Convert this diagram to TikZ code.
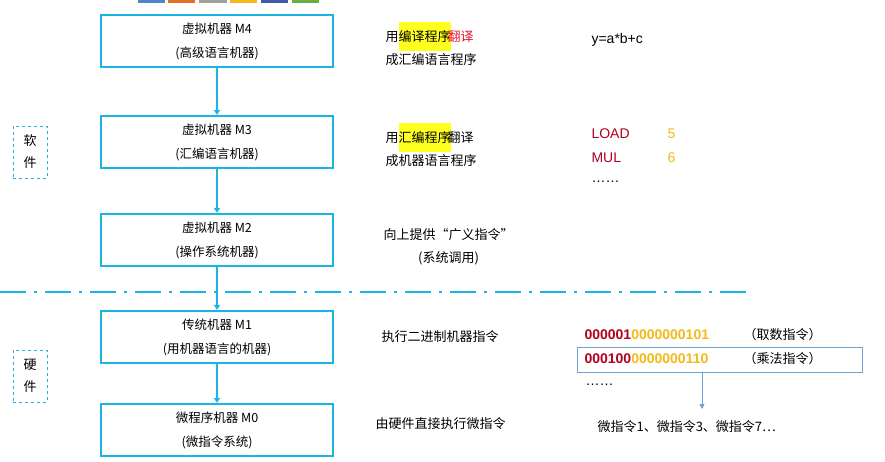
\documentclass[tikz,border=0pt]{standalone}
\usepackage{fontspec}
\setmainfont{Liberation Sans}
\newfontfamily\cjk{Noto Sans CJK SC}
\usetikzlibrary{arrows.meta}
\definecolor{cy}{HTML}{1CB4E4}
\definecolor{dred}{HTML}{B00020}
\definecolor{gold}{HTML}{F2BA1A}
\definecolor{hl}{HTML}{FFFF20}
\definecolor{rr}{HTML}{E8102A}
\definecolor{lb}{HTML}{6EA0D2}
\definecolor{c1}{HTML}{4F86C6}
\definecolor{c2}{HTML}{E0702A}
\definecolor{c3}{HTML}{A0A0A0}
\definecolor{c4}{HTML}{F2BA1A}
\definecolor{c5}{HTML}{3D5DA8}
\definecolor{c6}{HTML}{6AAE45}
\begin{document}
\begin{tikzpicture}[x=1pt,y=-1pt,
 mbox/.style={draw=cy,line width=2.2pt,minimum width=232pt,minimum height=52pt,align=center,font=\cjk\fontsize{12.5}{24}\selectfont},
 side/.style={draw=cy,dashed,line width=0.7pt,minimum width=34pt,minimum height=52pt,align=center,font=\cjk\fontsize{13}{22}\selectfont},
 txt/.style={anchor=west,align=left,font=\cjk\fontsize{13}{23}\selectfont},
 code/.style={anchor=west,font=\fontsize{14}{17}\selectfont},
 conn/.style={cy,line width=1.5pt,-{Triangle[length=5pt,width=6pt]}}]
\useasboundingbox (0,0) rectangle (885,462);
\fill[white] (0,0) rectangle (885,462);
% top colour strips
\fill[c1] (138,0) rectangle (165,3);
\fill[c2] (168,0) rectangle (195,3);
\fill[c3] (199,0) rectangle (227,3);
\fill[c4] (230,0) rectangle (257,3);
\fill[c5] (261,0) rectangle (288,3);
\fill[c6] (292,0) rectangle (319,3);
% machine boxes
\node[mbox] (m4) at (217,41) {虚拟机器 M4\\(高级语言机器)};
\node[mbox] (m3) at (217,142) {虚拟机器 M3\\(汇编语言机器)};
\node[mbox] (m2) at (217,240) {虚拟机器 M2\\(操作系统机器)};
\node[mbox] (m1) at (217,337) {传统机器 M1\\(用机器语言的机器)};
\node[mbox] (m0) at (217,430) {微程序机器 M0\\(微指令系统)};
\draw[conn] (m4) -- (m3);
\draw[conn] (m3) -- (m2);
\draw[conn] (m2) -- (m1);
\draw[conn] (m1) -- (m0);
% separator
\coordinate (sl) at (0,292); \coordinate (sr) at (752,292);
\draw[cy,line width=1.8pt,dash pattern=on 26pt off 8pt on 3pt off 8pt] (sl) -- (sr);
\node[side] (sw) at (30,152) {软\\件};
\node[side] (hw) at (30,376) {硬\\件};
% right texts
\node[txt] (t4) at (382,44) {用\colorbox{hl}{\strut\kern-3pt 编译程序\kern-3pt}\kern-3pt\textcolor{rr}{翻译}\\成汇编语言程序};
\node[txt] (t3) at (382,145) {用\colorbox{hl}{\strut\kern-3pt 汇编程序\kern-3pt}\kern-3pt 翻译\\成机器语言程序};
\node[txt,align=center] (t2) at (380,247) {向上提供“广义指令”\\(系统调用)};
\node[txt] (t1) at (378,337) {执行二进制机器指令};
\node[txt] (t0) at (372,424) {由硬件直接执行微指令};
\node[code] (y) at (588,40) {y=a*b+c};
\node[code,dred] (ld) at (588,134) {LOAD};
\node[code,gold] (ld5) at (664,134) {5};
\node[code,dred] (mul) at (588,158) {MUL};
\node[code,gold] (mul6) at (664,158) {6};
\node[code] (dots1) at (588,182) {……};
\node[code,font=\bfseries\fontsize{14}{17}\selectfont] (b1) at (581,335) {\textcolor{dred}{000001}\textcolor{gold}{0000000101}};
\node[txt,anchor=west] (b1t) at (740,335) {（取数指令）};
\node[code,font=\bfseries\fontsize{14}{17}\selectfont] (b2) at (581,359) {\textcolor{dred}{000100}\textcolor{gold}{0000000110}};
\node[txt,anchor=west] (b2t) at (740,359) {（乘法指令）};
\node[draw=lb,line width=0.8pt,minimum width=285pt,minimum height=25pt] (bb) at (720,360) {};
\node[code] (dots2) at (582,385) {……};
\node[txt] (mi) at (594,427) {微指令1、微指令3、微指令7…};
\coordinate (ae) at (702,409);
\draw[lb,line width=0.8pt,-{Triangle[length=5pt,width=5pt]}] (bb.south -| ae) -- (ae);
\end{tikzpicture}
\end{document}
